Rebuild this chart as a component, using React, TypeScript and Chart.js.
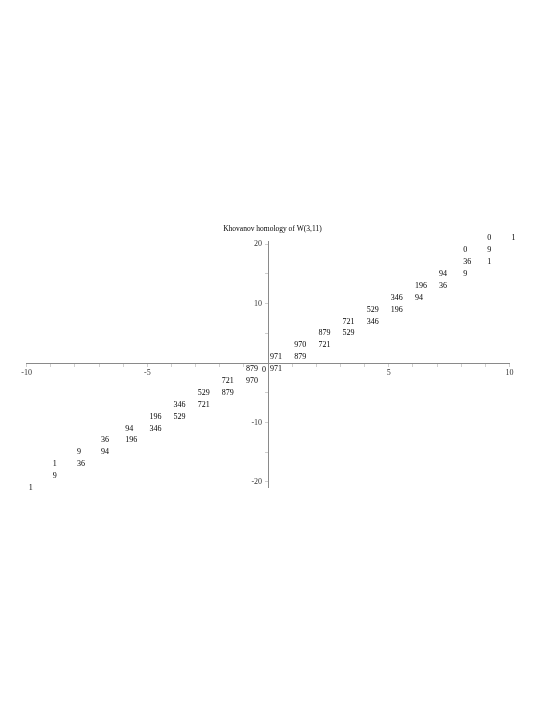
import React, { useEffect, useRef } from "react";
import { Chart, registerables } from "chart.js";

Chart.register(...registerables);

// Khovanov homology table of W(3,11): homological degree i, quantum degree j, rank
const homologicalDegrees = [
  0, 1, 1, 2, 2, 3, 3, 4, 4, 5, 5, 6, 6, 7, 7, 8, 8, 9, 8, 9, 9, 10,
  -1, 0, -2, -1, -3, -2, -4, -3, -5, -4, -6, -5, -7, -6, -8, -7, -9, -8, -9, -10,
];
const quantumDegrees = [
  1, 1, 3, 3, 5, 5, 7, 7, 9, 9, 11, 11, 13, 13, 15, 15, 17, 17, 19, 19, 21, 21,
  -1, -1, -3, -3, -5, -5, -7, -7, -9, -9, -11, -11, -13, -13, -15, -15, -17, -17, -19, -21,
];
const ranks = [
  971, 879, 970, 721, 879, 529, 721, 346, 529, 196, 346, 94, 196, 36, 94, 9, 36, 1, 0, 9, 0, 1,
  879, 971, 721, 970, 529, 879, 346, 721, 196, 529, 94, 346, 36, 196, 9, 94, 1, 36, 9, 1,
];
// entry written to the left of its point
const leftDegrees = [0];
const leftQuantum = [-1];
const leftRanks = [0];

const xTickValues = [-10, -9, -8, -7, -6, -5, -4, -3, -2, -1, 0, 1, 2, 3, 4, 5, 6, 7, 8, 9, 10];
const xTickLabels = ["-10", "-5", "5", "10"];
const yTickValues = [-20, -15, -10, -5, 0, 5, 10, 15, 20];
const yTickLabels = ["-20", "-10", "10", "20"];

const titleText = "Khovanov homology of W(3,11)";

const textFont = '8px "Liberation Serif"';

const labelPlugin = {
  id: "cellLabels",
  afterDatasetsDraw(chart: any) {
    const { ctx, scales, chartArea } = chart;
    const xs = scales.x;
    const ys = scales.y;
    ctx.save();
    ctx.fillStyle = "#000";
    ctx.font = textFont;
    ctx.textBaseline = "middle";
    ctx.textAlign = "left";
    ranks.forEach((r, k) => {
      ctx.fillText(
        String(r),
        xs.getPixelForValue(homologicalDegrees[k]) + 2,
        ys.getPixelForValue(quantumDegrees[k])
      );
    });
    ctx.textAlign = "right";
    leftRanks.forEach((r, k) => {
      ctx.fillText(
        String(r),
        xs.getPixelForValue(leftDegrees[k]) - 2,
        ys.getPixelForValue(leftQuantum[k]) + 0.5
      );
    });
    ctx.font = '7.5px "Liberation Serif"';
    ctx.textAlign = "center";
    ctx.fillText(titleText, (chartArea.left + chartArea.right) / 2 + 4.3, chartArea.top - 12.3);
    ctx.restore();
  },
};

// keep the y tick labels clear of the tick marks when the axis sits at x = 0
function shiftYLabels(scale: any) {
  const orig = scale._computeLabelItems;
  if (typeof orig !== "function" || scale.__shifted) return;
  scale.__shifted = true;
  scale._computeLabelItems = function (area: any) {
    const items = orig.call(this, area);
    items.forEach((it: any) => {
      if (it && it.options && Array.isArray(it.options.translation)) {
        it.options.translation = [it.options.translation[0] - 6, it.options.translation[1]];
      }
    });
    return items;
  };
}

export default function App() {
  const ref = useRef<HTMLCanvasElement | null>(null);

  useEffect(() => {
    if (!ref.current) return;
    const points = ranks.map((_, k) => ({ x: homologicalDegrees[k], y: quantumDegrees[k] }));
    const chart = new Chart(ref.current, {
      type: "scatter",
      data: {
        datasets: [
          {
            label: "ranks",
            data: points,
            pointRadius: 0,
            pointHoverRadius: 0,
            showLine: false,
          },
        ],
      },
      options: {
        responsive: false,
        animation: false,
        events: [],
        layout: { padding: { left: 26.7, right: 44.5, top: 241.3, bottom: 229.7 } },
        plugins: {
          legend: { display: false },
          tooltip: { enabled: false },
          title: { display: false },
        },
        scales: {
          x: {
            type: "linear",
            position: { y: 0 } as any,
            min: -10,
            max: 10,
            afterBuildTicks: (scale: any) => {
              scale.ticks = xTickValues.map((v) => ({ value: v }));
            },
            ticks: {
              autoSkip: false,
              maxRotation: 0,
              minRotation: 0,
              padding: 2,
              color: "#333",
              font: { family: "Liberation Serif", size: 8 },
              callback: (v: any) => (xTickLabels.includes(String(v)) ? String(v) : ""),
            },
            grid: {
              drawOnChartArea: false,
              drawTicks: true,
              tickLength: 3,
              color: "#cfcfcf",
            },
            border: { display: true, color: "#8a8a8a", width: 1 },
          },
          y: {
            type: "linear",
            position: { x: 0 } as any,
            min: -20.9,
            max: 20.5,
            afterBuildTicks: (scale: any) => {
              scale.ticks = yTickValues.map((v) => ({ value: v }));
            },
            afterUpdate: (scale: any) => shiftYLabels(scale),
            ticks: {
              autoSkip: false,
              padding: 3,
              color: "#333",
              font: { family: "Liberation Serif", size: 8 },
              callback: (v: any) => (yTickLabels.includes(String(v)) ? String(v) : ""),
            },
            grid: {
              drawOnChartArea: false,
              drawTicks: true,
              tickLength: 3,
              color: "#cfcfcf",
            },
            border: { display: true, color: "#8a8a8a", width: 1 },
          },
        },
      },
      plugins: [labelPlugin],
    });
    return () => chart.destroy();
  }, []);

  return (
    <div style={{ position: "absolute", left: 0, top: 0, width: 554, height: 717, background: "#fff" }}>
      <canvas ref={ref} width={554} height={717} style={{ display: "block" }} />
    </div>
  );
}
